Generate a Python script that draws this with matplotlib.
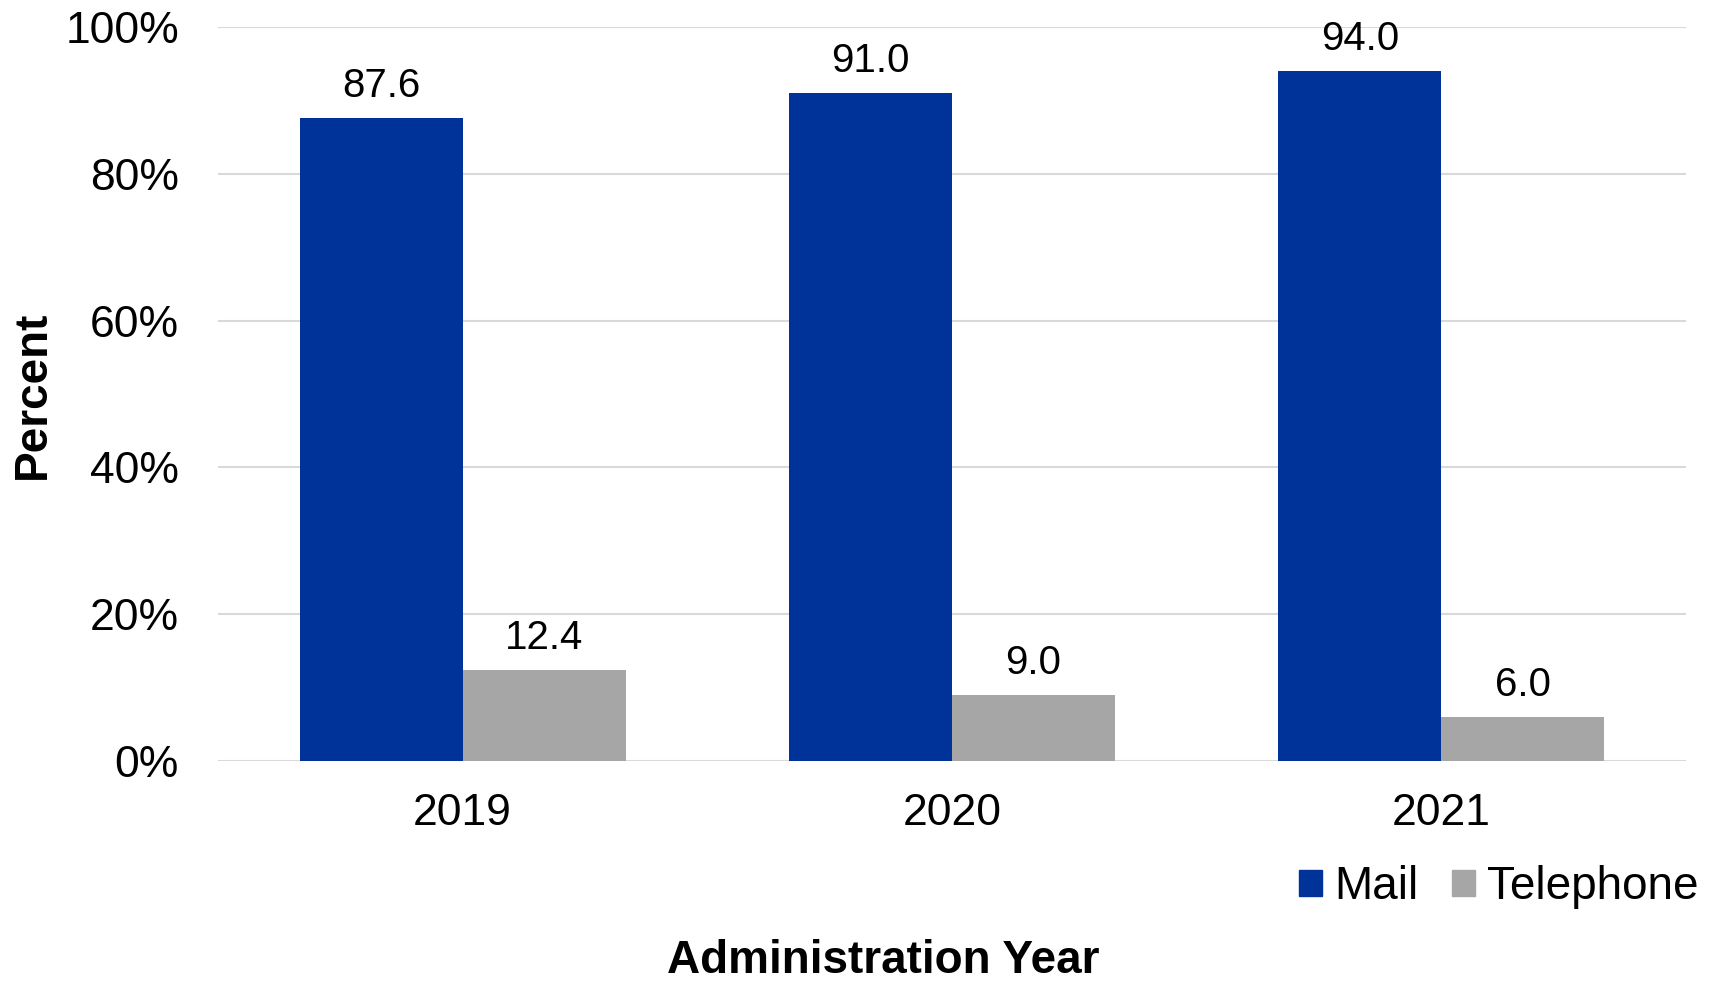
import matplotlib
matplotlib.use("Agg")
import matplotlib.pyplot as plt
from matplotlib.patches import Rectangle
import numpy as np

plt.rcParams['font.family'] = ['Liberation Sans', 'DejaVu Sans']

years = ["2019", "2020", "2021"]
mail = [87.6, 91.0, 94.0]
telephone = [12.4, 9.0, 6.0]
series_names = ["Mail", "Telephone"]
colors = ["#003399", "#A6A6A6"]
yticks = [0, 20, 40, 60, 80, 100]
ytick_labels = ["0%", "20%", "40%", "60%", "80%", "100%"]

fig = plt.figure(figsize=(17.11, 9.85), dpi=100)
ax = fig.add_axes([0.1274, 0.2274, 0.858, 0.7452])

x = np.arange(len(years))
w = 1 / 3
b1 = ax.bar(x - w / 2, mail, width=w, color=colors[0], zorder=3)
b2 = ax.bar(x + w / 2, telephone, width=w, color=colors[1], zorder=3)

for bars, vals in ((b1, mail), (b2, telephone)):
    for r, v in zip(bars, vals):
        ax.annotate(f"{v:.1f}", (r.get_x() + r.get_width() / 2, v),
                    xytext=(0, 9.5), textcoords="offset points",
                    ha="center", va="bottom", fontsize=29)

ax.set_xlim(-0.5, 2.5)
ax.set_ylim(0, 100)
ax.set_yticks(yticks)
ax.set_yticklabels(ytick_labels)
ax.set_xticks(x)
ax.set_xticklabels(years)
ax.tick_params(axis="both", length=0, labelsize=32)
ax.tick_params(axis="y", pad=28)
ax.tick_params(axis="x", pad=23)
ax.grid(axis="y", color="#D9D9D9", linewidth=1.5, zorder=0)
for s in ax.spines.values():
    s.set_visible(False)

fig.text(0.019, 0.599, "Percent", rotation=90, ha="center", va="center",
         fontsize=33, fontweight="bold")
fig.text(0.516, 0.002, "Administration Year", ha="center", va="bottom",
         fontsize=33, fontweight="bold")

handles = [Rectangle((0, 0), 1, 1, color=c) for c in colors]
fig.legend(handles, series_names, loc="center", bbox_to_anchor=(0.876, 0.099),
           ncol=2, frameon=False, fontsize=33, handlelength=0.5, handleheight=0.5,
           handletextpad=0.25, columnspacing=0.75)

fig.savefig("out.png", dpi=100)
